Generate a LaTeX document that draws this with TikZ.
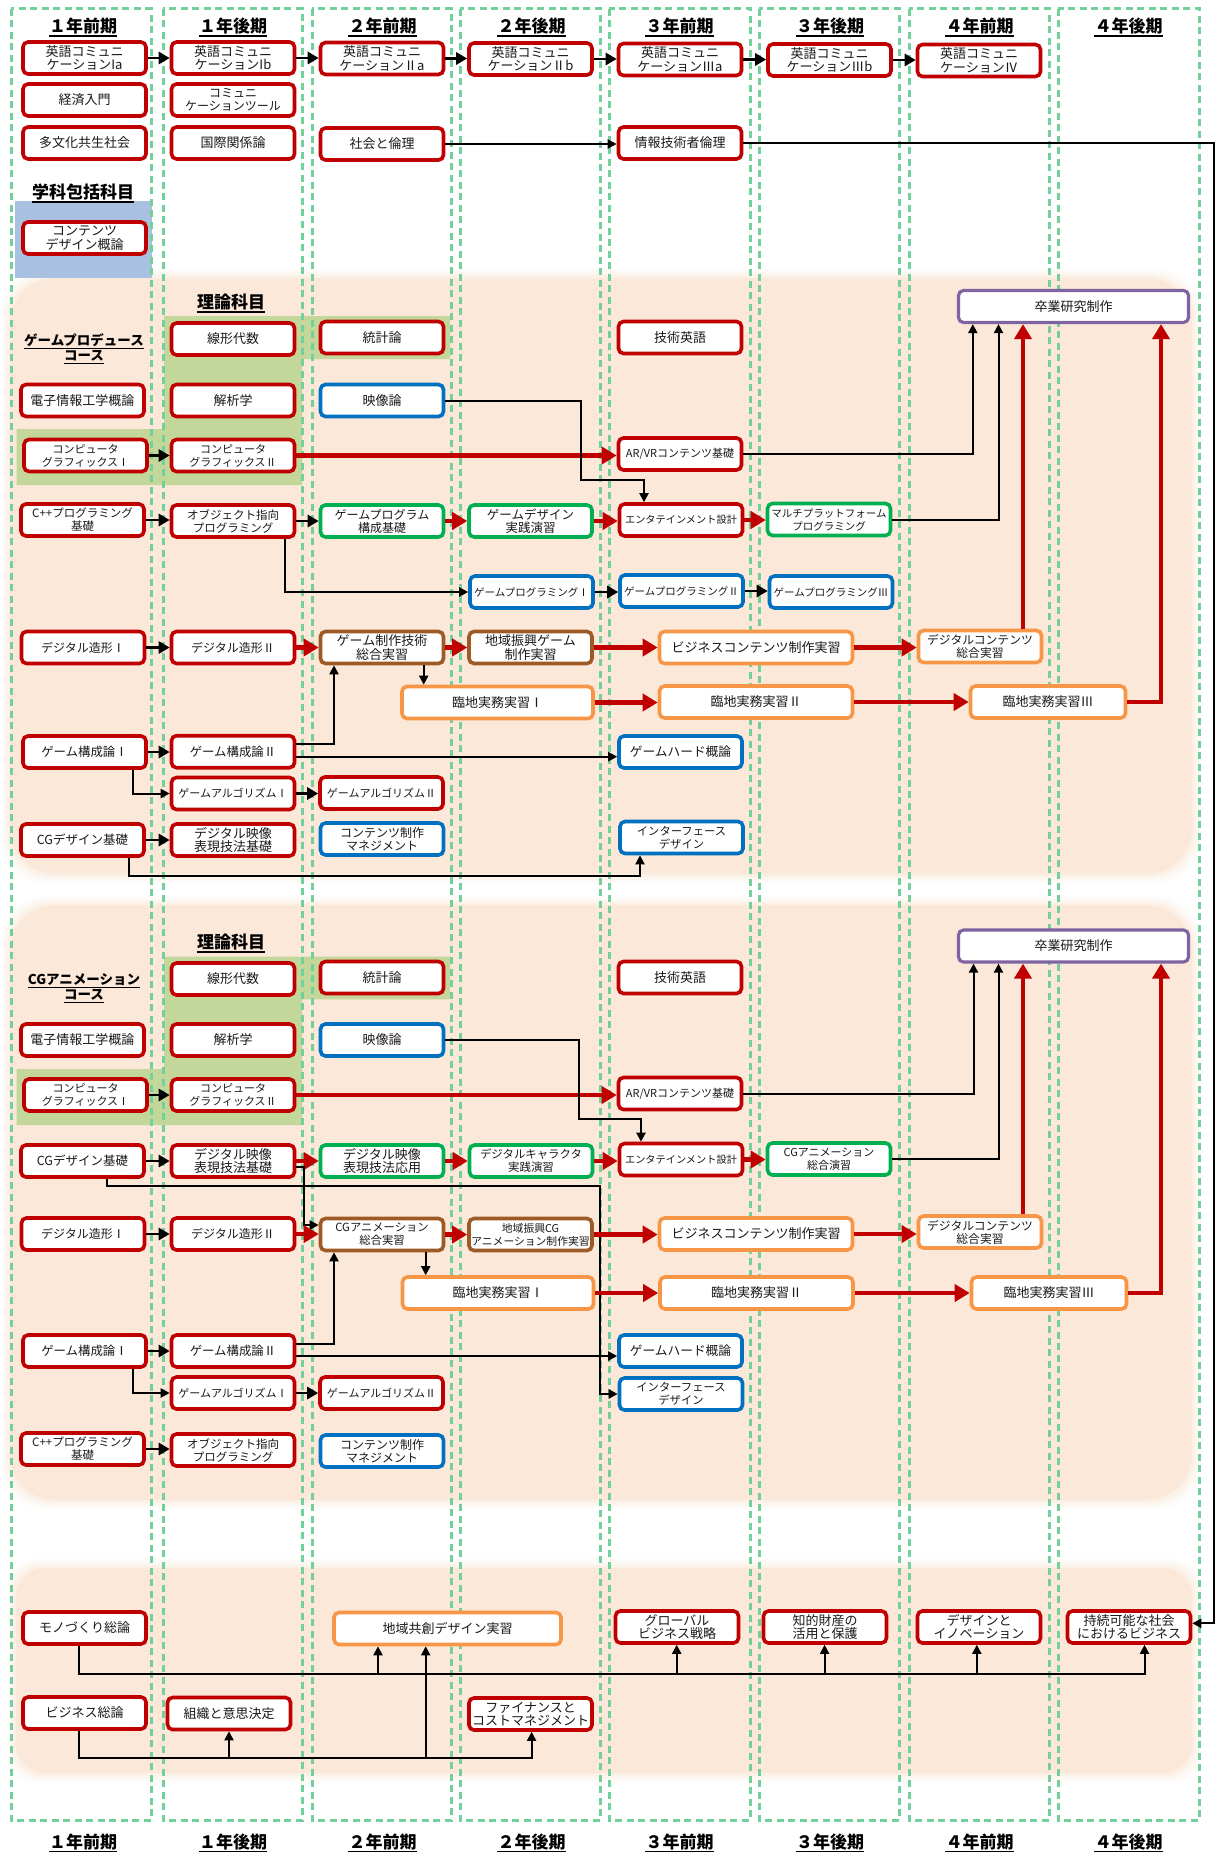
\documentclass[tikz,border=0pt]{standalone}
\usepackage{fontspec}
\setmainfont{Noto Sans CJK JP}
\usetikzlibrary{arrows.meta}
\definecolor{boxred}{HTML}{C00000}
\definecolor{boxblue}{HTML}{0070C0}
\definecolor{boxgreen}{HTML}{00B050}
\definecolor{boxbrown}{HTML}{9E5A24}
\definecolor{boxorange}{HTML}{F79646}
\definecolor{boxpurple}{HTML}{8064A2}
\definecolor{progred}{HTML}{C00000}
\definecolor{colgreen}{HTML}{74D09A}
\definecolor{peach}{HTML}{FBE8D9}
\definecolor{theory}{HTML}{C4D79B}
\definecolor{common}{HTML}{A9C1E0}
% soft-edged rounded panel: x1 y1 x2 y2 radius
\newcommand\peachpanel[5]{%
  \foreach \g/\o in {9/0.12,6/0.22,3/0.4}{%
    \fill[peach,opacity=\o,rounded corners=#5] (#1-\g,#2-\g) rectangle (#3+\g,#4+\g);}
  \fill[peach,rounded corners=#5] (#1,#2) rectangle (#3,#4);}
% straight horizontal arrow between two boxes
\newcommand\harrow[3]{\draw[#1] (#2.east) -- (#2.east -| #3.west);}
\begin{document}
\begin{tikzpicture}[x=1pt,y=-1pt,
  course/.style={draw=boxred, line width=3.6pt, rounded corners=5pt, fill=white,
    minimum width=123pt, minimum height=32pt, inner sep=0pt, align=center,
    text=black!90, font=\fontsize{13}{13.5}\selectfont},
  rc/.style={course},
  bc/.style={course, draw=boxblue},
  gc/.style={course, draw=boxgreen},
  brc/.style={course, draw=boxbrown},
  oc/.style={course, draw=boxorange},
  pc/.style={course, draw=boxpurple, line width=3.2pt, minimum width=230pt},
  wide/.style={minimum width=#1},
  tsize/.style={font=\fontsize{#1}{13}\selectfont},
  link/.style={line width=2.8pt, -{Triangle[length=11pt,width=12pt]}},
  conn/.style={line width=2pt, -{Triangle[length=9pt,width=9pt]}},
  prog/.style={draw=progred, line width=4.6pt, -{Triangle[length=15pt,width=17pt]}},
  colbox/.style={draw=colgreen, line width=3pt, dash pattern=on 7pt off 4.5pt},
  hdr/.style={inner sep=0pt, font=\fontsize{17}{17}\selectfont\bfseries},
  sect/.style={inner sep=0pt, font=\fontsize{13.5}{14}\selectfont\bfseries},
  uline/.style={line width=1.3pt},
]
\useasboundingbox (0,0) rectangle (1218,1852);
\fill[white] (0,0) rectangle (1218,1852);

% ---------- background panels ----------
\peachpanel{10}{278}{1192}{874}{45pt}
\peachpanel{10}{905}{1192}{1500}{45pt}
\peachpanel{16}{1568}{1192}{1773}{28pt}
\fill[common] (15,201) rectangle (152,278);
\fill[theory] (164,316) -- (450,316) -- (450,359) -- (302,359) -- (302,485)
  -- (16.6,485) -- (16.6,429) -- (164,429) -- cycle;
\fill[theory] (164,956.7) -- (450,956.7) -- (450,999.3) -- (302,999.3) -- (302,1125)
  -- (16.6,1125) -- (16.6,1069) -- (164,1069) -- cycle;

% ---------- semester columns ----------
\foreach \a/\b in {11/151,163/302,312/451,460/600,609/750,759/899,909/1049,1058/1199}
  \draw[colbox] (\a,9) rectangle (\b,1820);
\foreach \x/\t [count=\i] in {83/１年前期,233/１年後期,382.5/２年前期,531.5/２年後期,
    679.5/３年前期,830/３年後期,979.5/４年前期,1128.5/４年後期}{
  \node[hdr] (ht\i) at (\x,26) {\t};
  \draw[uline] ([yshift=-3.5pt]ht\i.base west) -- ([yshift=-3.5pt]ht\i.base east);
  \node[hdr] (hb\i) at (\x,1842) {\t};
  \draw[uline] ([yshift=-3.5pt]hb\i.base west) -- ([yshift=-3.5pt]hb\i.base east);
}

% ---------- section headings ----------
\node[hdr] (hcommon) at (83,192) {学科包括科目};
\draw[uline] ([yshift=-3.5pt]hcommon.base west) -- ([yshift=-3.5pt]hcommon.base east);
\node[hdr] (hthA) at (231,302) {理論科目};
\draw[uline] ([yshift=-3.5pt]hthA.base west) -- ([yshift=-3.5pt]hthA.base east);
\node[hdr] (hthB) at (231,942) {理論科目};
\draw[uline] ([yshift=-3.5pt]hthB.base west) -- ([yshift=-3.5pt]hthB.base east);
\node[sect] (hgp1) at (84,340) {ゲームプロデュース};
\node[sect] (hgp2) at (84,355.5) {コース};
\node[sect] (hcg1) at (84,979.5) {CGアニメーション};
\node[sect] (hcg2) at (84,995) {コース};
\foreach \n in {hgp1,hgp2,hcg1,hcg2}
  \draw[uline] ([yshift=-3pt]\n.base west) -- ([yshift=-3pt]\n.base east);

% ---------- common courses ----------
\node[rc] (eIa) at (84.5,58) {英語コミュニ\\ケーションIa};
\node[rc] (eIb) at (233,58) {英語コミュニ\\ケーションIb};
\node[rc] (eIIa) at (382,58.5) {英語コミュニ\\ケーションⅡa};
\node[rc] (eIIb) at (530.5,59) {英語コミュニ\\ケーションⅡb};
\node[rc] (eIIIa) at (680,59.5) {英語コミュニ\\ケーションⅢa};
\node[rc] (eIIIb) at (829.5,60) {英語コミュニ\\ケーションⅢb};
\node[rc] (eIV) at (979,60.5) {英語コミュニ\\ケーションⅣ};
\node[rc] (keizai) at (84.5,100) {経済入門};
\node[rc,tsize=12] (tool) at (233,100) {コミュニ\\ケーションツール};
\node[rc] (tabunka) at (84.5,143) {多文化共生社会};
\node[rc] (kokusai) at (233,143) {国際関係論};
\node[rc] (rinri) at (382,144) {社会と倫理};
\node[rc] (jrinri) at (680,143) {情報技術者倫理};
\node[rc] (cdesign) at (84.5,238) {コンテンツ\\デザイン概論};

% ---------- game produce course ----------
\node[pc] (gSotsu) at (1073.5,306.5) {卒業研究制作};
\node[rc] (gSenkei) at (233,339) {線形代数};
\node[rc] (gToukei) at (382,337.5) {統計論};
\node[rc] (gGijutsu) at (680,337.5) {技術英語};
\node[rc] (gDenshi) at (82.5,400.5) {電子情報工学概論};
\node[rc] (gKaiseki) at (233,400.5) {解析学};
\node[bc] (gEizou) at (382,400.5) {映像論};
\node[rc,tsize=11] (gCGa) at (85.5,455.5) {コンピュータ\\グラフィックスⅠ};
\node[rc,tsize=11] (gCGb) at (233,455.5) {コンピュータ\\グラフィックスⅡ};
\node[rc,tsize=11] (gARVR) at (680,454) {AR/VRコンテンツ基礎};
\node[rc,tsize=11.5] (gCpp) at (82.5,520) {C++プログラミング\\基礎};
\node[rc,tsize=11.5] (gOOP) at (233,521) {オブジェクト指向\\プログラミング};
\node[gc,tsize=12] (gGPK) at (382,521) {ゲームプログラム\\構成基礎};
\node[gc,tsize=12.5] (gGDJ) at (530.5,521) {ゲームデザイン\\実践演習};
\node[rc,tsize=10.2] (gEnt) at (681,520) {エンタテインメント設計};
\node[gc,tsize=10.5] (gMulti) at (829,519.5) {マルチプラットフォーム\\プログラミング};
\node[bc,tsize=10.5] (gGP1) at (531.5,592) {ゲームプログラミングⅠ};
\node[bc,tsize=10.5] (gGP2) at (681.5,591) {ゲームプログラミングⅡ};
\node[bc,tsize=10.5] (gGP3) at (831,592) {ゲームプログラミングⅢ};
\node[rc,tsize=12] (gZk1) at (83,647.5) {デジタル造形Ⅰ};
\node[rc,tsize=12] (gZk2) at (233,647.5) {デジタル造形Ⅱ};
\node[brc] (gSeisaku) at (382,647.5) {ゲーム制作技術\\総合実習};
\node[brc] (gChiiki) at (530.5,647.5) {地域振興ゲーム\\制作実習};
\node[oc,wide=193pt] (gBiz) at (756,647.5) {ビジネスコンテンツ制作実習};
\node[oc,tsize=11.8] (gDC) at (980,646.5) {デジタルコンテンツ\\総合実習};
\node[oc,wide=191pt] (gRin1) at (497.5,702.5) {臨地実務実習Ⅰ};
\node[oc,wide=193pt] (gRin2) at (756,702) {臨地実務実習Ⅱ};
\node[oc,wide=155pt] (gRin3) at (1048,702) {臨地実務実習Ⅲ};
\node[rc,tsize=12.4] (gKs1) at (84.5,752) {ゲーム構成論Ⅰ};
\node[rc,tsize=12.4] (gKs2) at (233,751.7) {ゲーム構成論Ⅱ};
\node[bc,tsize=12.7] (gHard) at (680.5,752) {ゲームハード概論};
\node[rc,tsize=11] (gAl1) at (233,793.5) {ゲームアルゴリズムⅠ};
\node[rc,tsize=11] (gAl2) at (381.5,793) {ゲームアルゴリズムⅡ};
\node[rc,tsize=12.5] (gCGD) at (82.5,840) {CGデザイン基礎};
\node[rc] (gDV) at (233,840) {デジタル映像\\表現技法基礎};
\node[bc,tsize=12] (gCM) at (382,839) {コンテンツ制作\\マネジメント};
\node[bc,tsize=11.3] (gIF) at (681.5,837.5) {インターフェース\\デザイン};

% ---------- CG animation course ----------
\node[pc] (cSotsu) at (1073.5,946) {卒業研究制作};
\node[rc] (cSenkei) at (233,979) {線形代数};
\node[rc] (cToukei) at (382,977.5) {統計論};
\node[rc] (cGijutsu) at (680,977.5) {技術英語};
\node[rc] (cDenshi) at (82.5,1040) {電子情報工学概論};
\node[rc] (cKaiseki) at (233,1040) {解析学};
\node[bc] (cEizou) at (382,1040) {映像論};
\node[rc,tsize=11] (cCGa) at (85.5,1095) {コンピュータ\\グラフィックスⅠ};
\node[rc,tsize=11] (cCGb) at (233,1095) {コンピュータ\\グラフィックスⅡ};
\node[rc,tsize=11] (cARVR) at (680,1093.5) {AR/VRコンテンツ基礎};
\node[rc,tsize=12.5] (cCGD) at (82.5,1161) {CGデザイン基礎};
\node[rc] (cDV) at (233,1161) {デジタル映像\\表現技法基礎};
\node[gc] (cDVA) at (382,1161) {デジタル映像\\表現技法応用};
\node[gc,tsize=11.4] (cChara) at (531,1161) {デジタルキャラクタ\\実践演習};
\node[rc,tsize=10.2] (cEnt) at (681,1159.5) {エンタテインメント設計};
\node[gc,tsize=11] (cCGA) at (829,1159) {CGアニメーション\\総合演習};
\node[rc,tsize=12] (cZk1) at (83,1234) {デジタル造形Ⅰ};
\node[rc,tsize=12] (cZk2) at (233,1234) {デジタル造形Ⅱ};
\node[brc,tsize=11.3] (cCGS) at (382,1234.5) {CGアニメーション\\総合実習};
\node[brc,tsize=10.8] (cChiiki) at (530.5,1234.5) {地域振興CG\\アニメーション制作実習};
\node[oc,wide=193pt] (cBiz) at (756,1234) {ビジネスコンテンツ制作実習};
\node[oc,tsize=11.8] (cDC) at (980,1232) {デジタルコンテンツ\\総合実習};
\node[oc,wide=191pt] (cRin1) at (498,1293) {臨地実務実習Ⅰ};
\node[oc,wide=193pt] (cRin2) at (756.5,1293) {臨地実務実習Ⅱ};
\node[oc,wide=155pt] (cRin3) at (1049,1293) {臨地実務実習Ⅲ};
\node[rc,tsize=12.4] (cKs1) at (84.5,1351) {ゲーム構成論Ⅰ};
\node[rc,tsize=12.4] (cKs2) at (233,1351) {ゲーム構成論Ⅱ};
\node[bc,tsize=12.7] (cHard) at (680.5,1351) {ゲームハード概論};
\node[bc,tsize=11.3] (cIF) at (681,1394) {インターフェース\\デザイン};
\node[rc,tsize=11] (cAl1) at (233,1393) {ゲームアルゴリズムⅠ};
\node[rc,tsize=11] (cAl2) at (381.5,1393) {ゲームアルゴリズムⅡ};
\node[rc,tsize=11.5] (cCpp) at (82.5,1449) {C++プログラミング\\基礎};
\node[rc,tsize=11.5] (cOOP) at (233,1450) {オブジェクト指向\\プログラミング};
\node[bc,tsize=12] (cCM) at (382,1451) {コンテンツ制作\\マネジメント};

% ---------- business courses ----------
\node[rc] (bMono) at (84.5,1628) {モノづくり総論};
\node[oc,wide=227pt] (bChiiki) at (447.5,1628.5) {地域共創デザイン実習};
\node[rc] (bGlobal) at (677,1627) {グローバル\\ビジネス戦略};
\node[rc] (bChiteki) at (825,1627) {知的財産の\\活用と保護};
\node[rc] (bDesign) at (979,1627) {デザインと\\イノベーション};
\node[rc] (bJizoku) at (1129,1627) {持続可能な社会\\におけるビジネス};
\node[rc] (bBiz) at (84.5,1713) {ビジネス総論};
\node[rc] (bSoshiki) at (229,1713.5) {組織と意思決定};
\node[rc] (bFin) at (530.5,1714) {ファイナンスと\\コストマネジメント};

% ---------- connectors: common ----------
\harrow{link}{eIa}{eIb}
\harrow{link}{eIb}{eIIa}
\harrow{link}{eIIa}{eIIb}
\harrow{link}{eIIb}{eIIIa}
\harrow{link}{eIIIa}{eIIIb}
\harrow{link}{eIIIb}{eIV}
\draw[conn] (rinri.east) -- (rinri.east -| jrinri.west);
\draw[conn] (jrinri.east) -- (1214,143) |- ([yshift=3.7pt]bJizoku.east);

% ---------- connectors: game produce ----------
\harrow{link}{gCGa}{gCGb}
\draw[prog] (gCGb.east) -- (gCGb.east -| gARVR.west);
\draw[conn] (gEizou.east) -| (581,480) -| ([xshift=-37pt]gEnt.north);
\draw[conn] (gARVR.east) -| ([xshift=-100.7pt]gSotsu.south);
\draw[conn] (gMulti.east) -| ([xshift=-75pt]gSotsu.south);
\coordinate (gDCup) at ([xshift=43pt]gDC.north);
\draw[prog] (gDCup) -- (gDCup |- gSotsu.south);
\draw[prog] (gRin3.east) -| ([xshift=87.5pt]gSotsu.south);
\harrow{link}{gCpp}{gOOP}
\harrow{link}{gOOP}{gGPK}
\draw[prog] (gGPK.east) -- (gGPK.east -| gGDJ.west);
\draw[prog] (gGDJ.east) -- (gGDJ.east -| gEnt.west);
\draw[prog] (gEnt.east) -- (gEnt.east -| gMulti.west);
\draw[conn] ([xshift=52.4pt]gOOP.south) |- (gGP1.west);
\harrow{link}{gGP1}{gGP2}
\harrow{link}{gGP2}{gGP3}
\harrow{link}{gZk1}{gZk2}
\draw[prog] (gZk2.east) -- (gZk2.east -| gSeisaku.west);
\draw[prog] (gSeisaku.east) -- (gSeisaku.east -| gChiiki.west);
\draw[prog] (gChiiki.east) -- (gChiiki.east -| gBiz.west);
\draw[prog] (gBiz.east) -- (gBiz.east -| gDC.west);
\coordinate (gSdown) at ([xshift=41.7pt]gSeisaku.south);
\draw[conn] (gSdown) -- (gSdown |- gRin1.north);
\draw[prog] (gRin1.east) -- (gRin1.east -| gRin2.west);
\draw[prog] (gRin2.east) -- (gRin2.east -| gRin3.west);
\harrow{link}{gKs1}{gKs2}
\draw[conn] ([yshift=7.5pt]gKs2.east) -| ([xshift=-48pt]gSeisaku.south);
\coordinate (gKsLow) at ([yshift=-5pt]gKs2.east);
\draw[conn] (gKsLow) -- (gKsLow -| gHard.west);
\draw[conn] ([xshift=48pt]gKs1.south) |- (gAl1.west);
\harrow{link}{gAl1}{gAl2}
\harrow{link}{gCGD}{gDV}
\draw[conn] ([xshift=46.5pt]gCGD.south) |- (640,876) -- ([xshift=-41.5pt]gIF.south);

% ---------- connectors: CG animation ----------
\harrow{link}{cCGa}{cCGb}
\draw[prog] (cCGb.east) -- (cCGb.east -| cARVR.west);
\draw[conn] (cEizou.east) -| (579,1119) -| ([xshift=-40pt]cEnt.north);
\draw[conn] (cARVR.east) -| ([xshift=-100pt]cSotsu.south);
\draw[conn] (cCGA.east) -| ([xshift=-75pt]cSotsu.south);
\coordinate (cDCup) at ([xshift=43pt]cDC.north);
\draw[prog] (cDCup) -- (cDCup |- cSotsu.south);
\draw[prog] (cRin3.east) -| ([xshift=87.5pt]cSotsu.south);
\harrow{link}{cCGD}{cDV}
\draw[prog] (cDV.east) -- (cDV.east -| cDVA.west);
\draw[prog] (cDVA.east) -- (cDVA.east -| cChara.west);
\draw[prog] (cChara.east) -- (cChara.east -| cEnt.west);
\draw[prog] (cEnt.east) -- (cEnt.east -| cCGA.west);
\draw[conn] ([xshift=24.2pt]cCGD.south) |- (600,1185.7) |- (cIF.west);
\draw[conn] ([yshift=-5.7pt]cDV.east) -| (304,1225) -- ([yshift=9.5pt]cCGS.west);
\harrow{link}{cZk1}{cZk2}
\draw[prog] (cZk2.east) -- (cZk2.east -| cCGS.west);
\draw[prog] (cCGS.east) -- (cCGS.east -| cChiiki.west);
\draw[prog] (cChiiki.east) -- (cChiiki.east -| cBiz.west);
\draw[prog] (cBiz.east) -- (cBiz.east -| cDC.west);
\coordinate (cSdown) at ([xshift=43.7pt]cCGS.south);
\draw[conn] (cSdown) -- (cSdown |- cRin1.north);
\draw[prog] (cRin1.east) -- (cRin1.east -| cRin2.west);
\draw[prog] (cRin2.east) -- (cRin2.east -| cRin3.west);
\harrow{link}{cKs1}{cKs2}
\draw[conn] ([yshift=6.7pt]cKs2.east) -| ([xshift=-48pt]cCGS.south);
\coordinate (cKsLow) at ([yshift=-5pt]cKs2.east);
\draw[conn] (cKsLow) -- (cKsLow -| cHard.west);
\draw[conn] ([xshift=48pt]cKs1.south) |- (cAl1.west);
\harrow{link}{cAl1}{cAl2}
\harrow{link}{cCpp}{cOOP}

% ---------- connectors: business ----------
\draw[conn] ([xshift=-5.5pt]bMono.south) |- (1144.5,1674.3) -- ([xshift=15.5pt]bJizoku.south);
\foreach \x/\n in {378/bChiiki,676.7/bGlobal,824.6/bChiteki,976.8/bDesign}{
  \coordinate (tap) at (\x,1674.3);
  \draw[conn] (tap) -- (tap |- \n.south);
}
\draw[conn] ([xshift=-5.5pt]bBiz.south) |- (531.6,1758.3) -- ([xshift=1.1pt]bFin.south);
\foreach \x/\n in {229/bSoshiki,425.7/bChiiki}{
  \coordinate (tap) at (\x,1758.3);
  \draw[conn] (tap) -- (tap |- \n.south);
}
\end{tikzpicture}
\end{document}
